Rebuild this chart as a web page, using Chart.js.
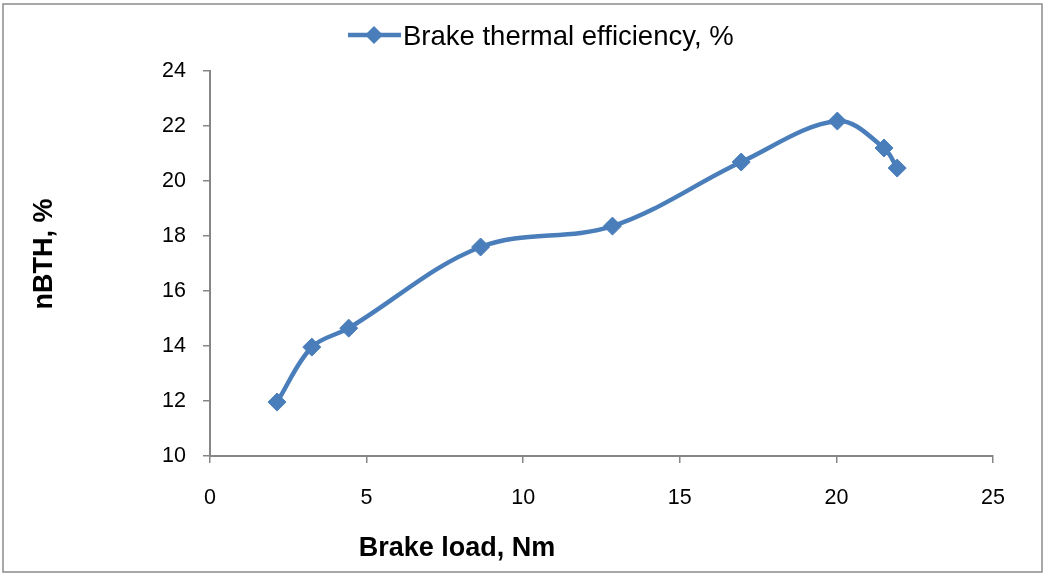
<!DOCTYPE html>
<html>
<head>
<meta charset="utf-8">
<script src="https://cdn.jsdelivr.net/npm/chart.js@4.4.1/dist/chart.umd.min.js"></script>
<style>
  html, body { margin: 0; padding: 0; background: #ffffff; }
  #wrap { position: relative; width: 1045px; height: 574px; }
</style>
</head>
<body>
<div id="wrap"><canvas id="c" width="1045" height="574"></canvas></div>
<script>
// ---- data ----
const seriesLabel = 'Brake thermal efficiency, %';
const brakeLoad = [2.14, 3.25, 4.43, 8.64, 12.85, 16.96, 20.03, 21.52, 21.94];
const bthValues = [11.96, 13.96, 14.65, 17.6, 18.36, 20.69, 22.18, 21.2, 20.47];
const xTitle = 'Brake load, Nm';
const yTitle = 'nBTH, %';
const xRange = [0, 25, 5];
const yRange = [10, 24, 2];

const blue = '#4a7ebb';
const axisGray = '#868686';

const points = brakeLoad.map((x, i) => ({ x: x, y: bthValues[i] }));

const framePlugin = {
  id: 'frameAndExtras',
  beforeDraw(chart) {
    const ctx = chart.ctx;
    ctx.save();
    ctx.fillStyle = '#ffffff';
    ctx.fillRect(0, 0, chart.width, chart.height);
    ctx.strokeStyle = '#8c8c8c';
    ctx.lineWidth = 1.5;
    ctx.strokeRect(3, 4, chart.width - 6, chart.height - 6);
    ctx.restore();
  },
  afterDraw(chart) {
    const ctx = chart.ctx;
    ctx.save();
    // legend
    const ly = 35;
    ctx.strokeStyle = blue;
    ctx.lineWidth = 4.5;
    ctx.beginPath();
    ctx.moveTo(348, ly);
    ctx.lineTo(401, ly);
    ctx.stroke();
    ctx.fillStyle = blue;
    ctx.beginPath();
    const r = 9;
    ctx.moveTo(374 - r, ly);
    ctx.lineTo(374, ly - r);
    ctx.lineTo(374 + r, ly);
    ctx.lineTo(374, ly + r);
    ctx.closePath();
    ctx.fill();
    ctx.fillStyle = '#000000';
    ctx.font = '27.5px "Liberation Sans", Arial, sans-serif';
    ctx.textAlign = 'left';
    ctx.textBaseline = 'alphabetic';
    ctx.fillText(seriesLabel, 403, 44.5);
    // x title
    ctx.font = 'bold 27px "Liberation Sans", Arial, sans-serif';
    ctx.textAlign = 'center';
    ctx.fillText(xTitle, 457, 556);
    // y title
    ctx.translate(52, 254);
    ctx.rotate(-Math.PI / 2);
    ctx.font = 'bold 27px "Liberation Sans", Arial, sans-serif';
    ctx.textAlign = 'center';
    ctx.fillText(yTitle, 0, 0);
    ctx.restore();
  }
};

new Chart(document.getElementById('c'), {
  type: 'line',
  data: {
    datasets: [{
      label: seriesLabel,
      data: points,
      borderColor: blue,
      backgroundColor: blue,
      borderWidth: 4.5,
      tension: 0.35,
      pointStyle: 'rectRot',
      pointRadius: 9,
      pointHoverRadius: 9,
      pointBorderWidth: 1,
      pointBorderColor: blue,
      pointBackgroundColor: blue,
      fill: false
    }]
  },
  options: {
    responsive: false,
    animation: false,
    devicePixelRatio: 1,
    layout: { padding: { top: 71, right: 52, left: 0, bottom: 0 } },
    plugins: {
      legend: { display: false },
      tooltip: { enabled: false }
    },
    scales: {
      x: {
        type: 'linear',
        min: xRange[0], max: xRange[1],
        afterFit(scale) { scale.height = 118; },
        ticks: {
          stepSize: xRange[2],
          color: '#000000',
          padding: 22,
          maxRotation: 0,
          font: { family: '"Liberation Sans", Arial, sans-serif', size: 21.5 }
        },
        grid: { drawOnChartArea: false, drawTicks: true, tickLength: 7, color: axisGray, lineWidth: 1.5 },
        border: { display: true, color: axisGray, width: 2 },
        title: { display: false }
      },
      y: {
        type: 'linear',
        min: yRange[0], max: yRange[1],
        afterFit(scale) { scale.width = 210; },
        ticks: {
          stepSize: yRange[2],
          color: '#000000',
          padding: 17,
          font: { family: '"Liberation Sans", Arial, sans-serif', size: 21.5 }
        },
        grid: { drawOnChartArea: false, drawTicks: true, tickLength: 7, color: axisGray, lineWidth: 1.5 },
        border: { display: true, color: axisGray, width: 2 },
        title: { display: false }
      }
    }
  },
  plugins: [framePlugin]
});
</script>
</body>
</html>
